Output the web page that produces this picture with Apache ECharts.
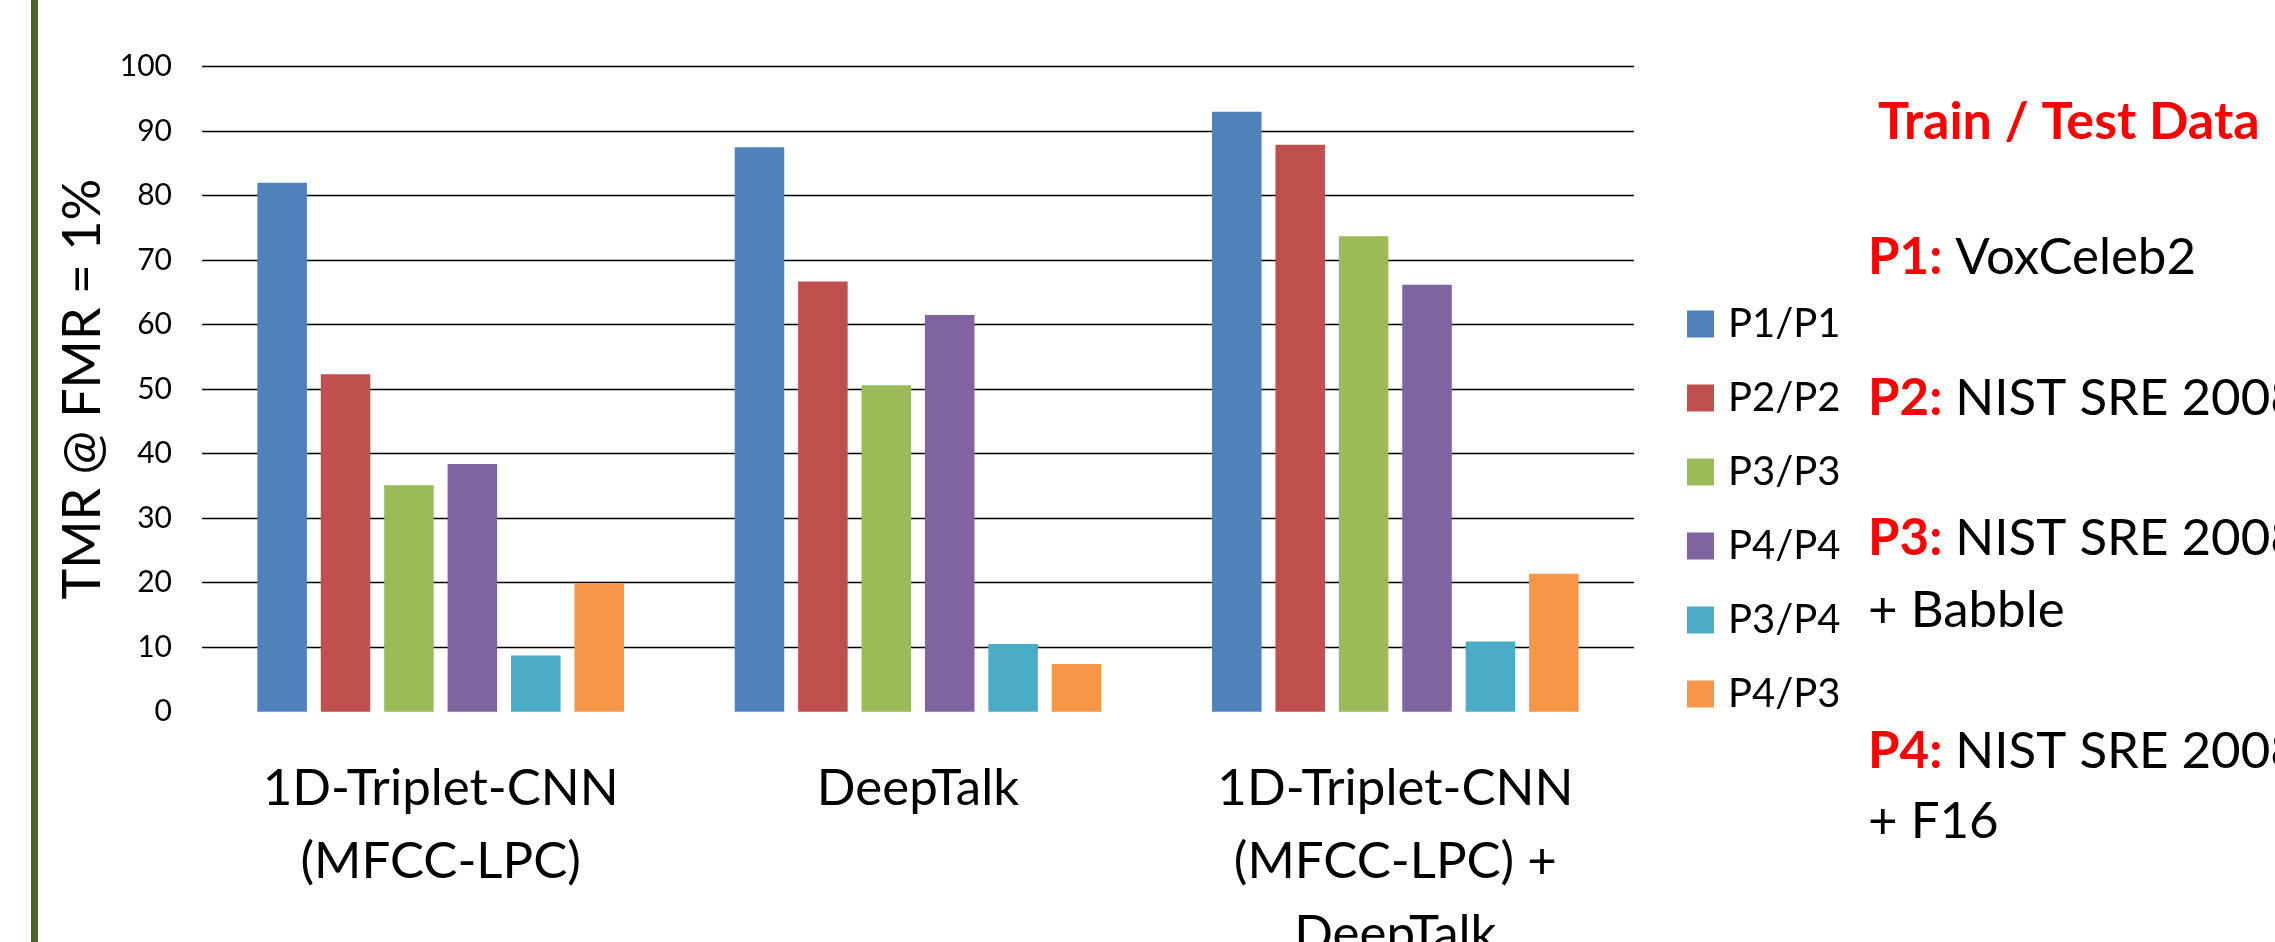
<!DOCTYPE html>
<html>
<head>
<meta charset="utf-8">
<title>TMR @ FMR = 1%</title>
<script src="https://cdn.jsdelivr.net/npm/echarts@6/dist/echarts.min.js"></script>
<style>
  html, body { margin: 0; padding: 0; background: #ffffff; }
  #chart { width: 2275px; height: 942px; }
</style>
</head>
<body>
<div id="chart"></div>
<script>
// Systems compared (x-axis categories)
const categories = [
  '1D-Triplet-CNN\n(MFCC-LPC)',
  'DeepTalk',
  '1D-Triplet-CNN\n(MFCC-LPC) +\nDeepTalk'
];

// Train/test protocol pairs (one bar series each)
const seriesNames = ['P1/P1', 'P2/P2', 'P3/P3', 'P4/P4', 'P3/P4', 'P4/P3'];
const seriesColors = ['#4F81BD', '#C0504D', '#9BBB59', '#8064A2', '#4BACC6', '#F79646'];

// TMR @ FMR = 1% per system
const p1p1 = [82.0, 87.5, 93.0];
const p2p2 = [52.3, 66.7, 87.9];
const p3p3 = [35.1, 50.6, 73.7];
const p4p4 = [38.4, 61.5, 66.2];
const p3p4 = [8.7, 10.5, 10.9];
const p4p3 = [19.9, 7.4, 21.4];

const seriesValues = [p1p1, p2p2, p3p3, p4p4, p3p4, p4p3];

// Y-axis scale
const yMin = 0;
const yMax = 100;
const yStep = 10;

// Dataset descriptions shown beside the legend
const notesTitle = 'Train / Test Data';
const notes = [
  ['P1:', ' VoxCeleb2'],
  ['P2:', ' NIST SRE 2008'],
  ['P3:', ' NIST SRE 2008'],
  ['', '+ Babble'],
  ['P4:', ' NIST SRE 2008'],
  ['', '+ F16']
];

const FONT = 'Lato, "Open Sans", sans-serif';
const noteY = [258, 399, 539, 611, 752, 822];

const chart = echarts.init(document.getElementById('chart'), null, { renderer: 'canvas' });

const graphics = [
  {
    type: 'rect',
    shape: { x: 31, y: 0, width: 7, height: 942 },
    style: { fill: '#4F6228' },
    silent: true
  },
  {
    type: 'text',
    x: 1878, y: 122,
    style: {
      text: notesTitle,
      font: 'bold 52px ' + FONT,
      fill: '#FF0000',
      verticalAlign: 'middle',
      align: 'left'
    }
  }
];

notes.forEach((n, i) => {
  graphics.push({
    type: 'text',
    x: 1868, y: noteY[i],
    style: {
      text: (n[0] ? '{k|' + n[0] + '}' : '') + '{v|' + n[1] + '}',
      verticalAlign: 'middle',
      align: 'left',
      rich: {
        k: { fontFamily: FONT, fontSize: 51, fontWeight: 'bold', fill: '#FF0000', color: '#FF0000' },
        v: { fontFamily: FONT, fontSize: 51, fill: '#000000', color: '#000000' }
      }
    }
  });
});

chart.setOption({
  animation: false,
  backgroundColor: '#ffffff',
  color: seriesColors,
  textStyle: { fontFamily: FONT },
  grid: {
    left: 202, right: 641, top: 66.7, bottom: 230.3,
    containLabel: false,
    outerBoundsMode: 'none'
  },
  legend: {
    orient: 'vertical',
    left: 1682,
    top: 299,
    itemWidth: 27,
    itemHeight: 27,
    itemGap: 34,
    icon: 'rect',
    data: seriesNames,
    textStyle: {
      fontFamily: FONT,
      fontSize: 40,
      color: '#000000',
      padding: [0, 0, 0, 9]
    }
  },
  xAxis: {
    type: 'category',
    data: categories,
    axisLine: { show: false },
    axisTick: { show: false },
    axisLabel: {
      interval: 0,
      margin: 40,
      fontFamily: FONT,
      fontSize: 51,
      lineHeight: 73,
      color: '#000000',
      align: 'center'
    }
  },
  yAxis: {
    type: 'value',
    min: yMin,
    max: yMax,
    interval: yStep,
    name: 'TMR @ FMR = 1%',
    nameLocation: 'middle',
    nameGap: 90,
    nameRotate: 90,
    nameTextStyle: { fontFamily: FONT, fontSize: 52, color: '#000000' },
    axisLine: { show: false },
    axisTick: { show: false },
    axisLabel: { margin: 30, fontFamily: FONT, fontSize: 30, color: '#000000' },
    splitLine: { show: true, showMinLine: false, lineStyle: { color: '#000000', width: 1.3 } }
  },
  series: seriesNames.map((name, i) => ({
    name: name,
    type: 'bar',
    data: seriesValues[i],
    barGap: '28%',
    barCategoryGap: '23.2%',
    itemStyle: { color: seriesColors[i] }
  })),
  graphic: graphics
});
</script>
</body>
</html>
